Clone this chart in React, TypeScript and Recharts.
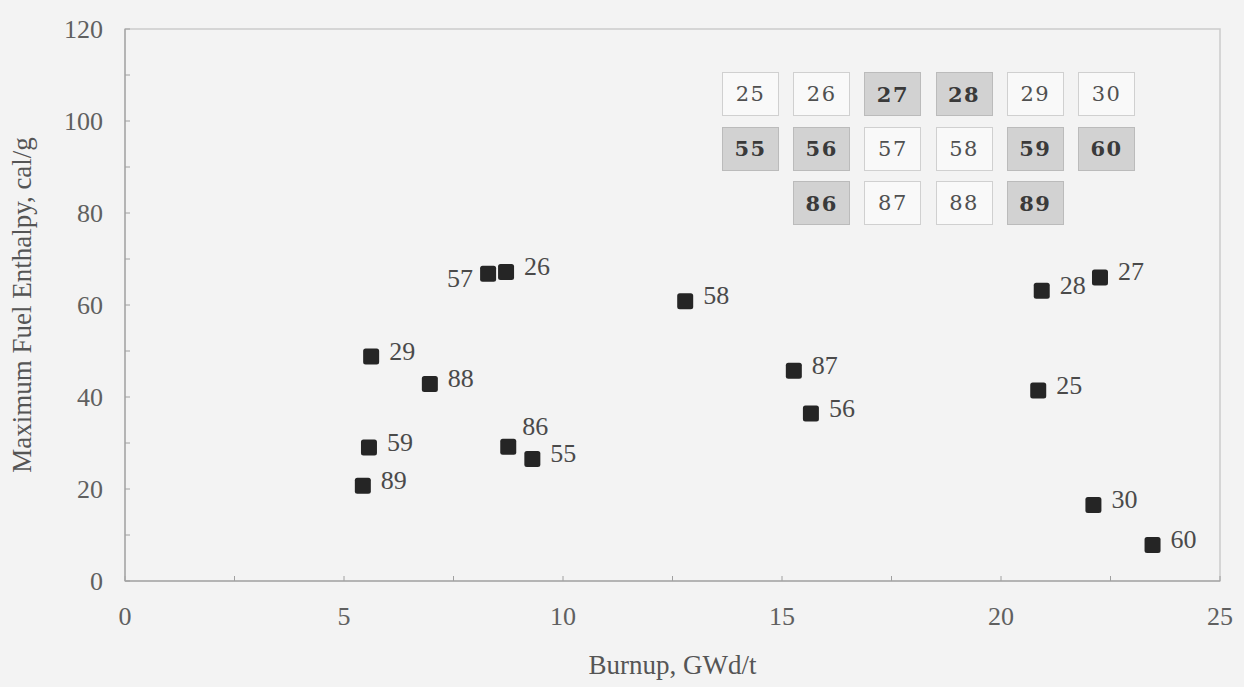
import { ScatterChart, Scatter, XAxis, YAxis, ReferenceArea } from "recharts";

// rod ids, burnup (GWd/t) and max fuel enthalpy (cal/g)
const rodIds = ["25", "26", "27", "28", "29", "30", "55", "56", "57", "58", "59", "60", "86", "87", "88", "89"];
const burnup = [20.85, 8.7, 22.26, 20.93, 5.62, 22.11, 9.3, 15.66, 8.29, 12.79, 5.57, 23.46, 8.75, 15.27, 6.96, 5.43];
const enthalpy = [41.4, 67.2, 66.0, 63.1, 48.8, 16.5, 26.5, 36.4, 66.8, 60.8, 29.0, 7.8, 29.2, 45.7, 42.8, 20.7];

const xTicks = [0, 2.5, 5, 7.5, 10, 12.5, 15, 17.5, 20, 22.5, 25];
const yTicks = [0, 10, 20, 30, 40, 50, 60, 70, 80, 90, 100, 110, 120];

// core map inset in the upper right
const insetRows = [
  ["25", "26", "27", "28", "29", "30"],
  ["55", "56", "57", "58", "59", "60"],
  ["", "86", "87", "88", "89", ""],
];
const shadedIds = ["27", "28", "55", "56", "59", "60", "86", "89"];

// where a point's label sits if not to the right of it
const labelSide: Record<string, string> = { "57": "left", "86": "top" };

const data = rodIds.map((id, i) => ({ id, x: burnup[i], y: enthalpy[i] }));

const serif = "'Liberation Serif', 'Times New Roman', serif";

function RodMarker(props: any) {
  const { cx, cy, payload } = props;
  if (cx == null || cy == null) return null;
  const side = labelSide[payload.id] ?? "right";
  let tx = cx + 18;
  let ty = cy + 3;
  let anchor: "start" | "end" = "start";
  if (side === "left") {
    tx = cx - 15;
    ty = cy + 13;
    anchor = "end";
  } else if (side === "top") {
    tx = cx + 14;
    ty = cy - 12;
  }
  return (
    <g>
      <rect x={cx - 8} y={cy - 8} width={16} height={16} rx={2.5} fill="#252525" />
      <text x={tx} y={ty} textAnchor={anchor} fontFamily={serif} fontSize={26} fill="#4a4a4a">
        {payload.id}
      </text>
    </g>
  );
}

function XTitle({ viewBox }: any) {
  return (
    <text
      x={viewBox.x + viewBox.width / 2}
      y={viewBox.y + 84}
      textAnchor="middle"
      dominantBaseline="central"
      fontFamily={serif}
      fontSize={27}
      fill="#555"
    >
      Burnup, GWd/t
    </text>
  );
}

function YTitle({ viewBox }: any) {
  const x = 22;
  const y = viewBox.y + viewBox.height / 2;
  return (
    <text
      x={x}
      y={y}
      transform={`rotate(-90 ${x} ${y})`}
      textAnchor="middle"
      dominantBaseline="central"
      fontFamily={serif}
      fontSize={27}
      fill="#555"
    >
      Maximum Fuel Enthalpy, cal/g
    </text>
  );
}

function CoreInset() {
  return (
    <>
      {insetRows.map((row, r) =>
        row.map((id, c) => {
          if (!id) return null;
          const shaded = shadedIds.includes(id);
          return (
            <div
              key={id}
              style={{
                position: "absolute",
                left: 722 + c * 71.2,
                top: 72 + r * 54.5,
                width: 57,
                height: 44,
                boxSizing: "border-box",
                border: `1.5px solid ${shaded ? "#bbbbbb" : "#d0d0d0"}`,
                background: shaded ? "#d2d2d2" : "#f9f9f9",
                display: "flex",
                alignItems: "center",
                justifyContent: "center",
                fontFamily: "'DejaVu Serif', serif",
                fontSize: 21,
                letterSpacing: 1.5,
                fontWeight: shaded ? 700 : 400,
                color: shaded ? "#3a3a3a" : "#505050",
              }}
            >
              {id}
            </div>
          );
        })
      )}
    </>
  );
}

export default function App() {
  return (
    <div style={{ position: "relative", width: 1244, height: 687, background: "#f3f3f3" }}>
      <style>{"body{margin:0;background:#f3f3f3}"}</style>
      <ScatterChart width={1244} height={687} margin={{ top: 29, right: 24, bottom: 0, left: 0 }}>
        <ReferenceArea x1={0} x2={25} y1={0} y2={120} fill="none" stroke="#cbcbcb" strokeWidth={1.5} />
        <XAxis
          type="number"
          dataKey="x"
          domain={[0, 25]}
          ticks={xTicks}
          interval={0}
          height={106}
          tickFormatter={(v) => (v % 5 === 0 ? String(v) : "")}
          tick={{ fill: "#606060", fontSize: 26, fontFamily: serif }}
          tickSize={-5}
          tickMargin={31}
          tickLine={{ stroke: "#a0a0a0" }}
          axisLine={{ stroke: "#a8a8a8", strokeWidth: 1.5 }}
          label={<XTitle />}
        />
        <YAxis
          type="number"
          dataKey="y"
          domain={[0, 120]}
          ticks={yTicks}
          interval={0}
          width={125}
          tickFormatter={(v) => (v % 20 === 0 ? String(v) : "")}
          tick={{ fill: "#606060", fontSize: 26, fontFamily: serif }}
          tickSize={-5}
          tickMargin={27}
          tickLine={{ stroke: "#a0a0a0" }}
          axisLine={{ stroke: "#a8a8a8", strokeWidth: 1.5 }}
          label={<YTitle />}
        />
        <Scatter data={data} shape={<RodMarker />} isAnimationActive={false} />
      </ScatterChart>
      <CoreInset />
    </div>
  );
}
